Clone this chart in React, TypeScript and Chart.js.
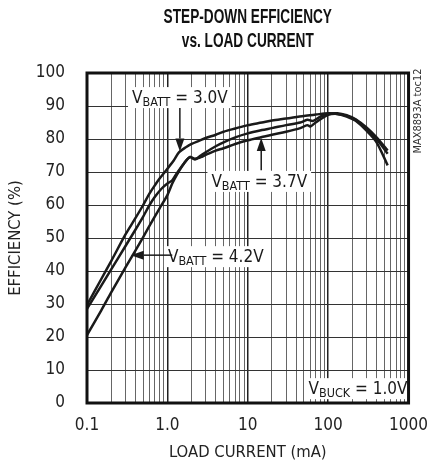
import React, { useEffect, useRef } from "react";
import { Chart, registerables } from "chart.js";

Chart.register(...registerables);

// ---- data ----
const current30 = [0.1, 0.15, 0.2, 0.3, 0.4, 0.5, 0.6, 0.7, 0.8, 1.0, 1.2, 1.4, 1.7, 2, 2.5, 3, 4, 5, 7, 10, 15, 20, 30, 50, 70, 100, 130, 170, 220, 300, 400, 550];
const eff30 = [29.7, 37.5, 43, 51, 56, 60, 63.5, 66, 68, 71, 73.5, 76, 77.5, 78.5, 79.5, 80.3, 81.3, 82.2, 83.2, 84.2, 85, 85.6, 86.2, 87, 87.4, 87.8, 87.6, 86.8, 85.5, 82.5, 79, 72];

const current37 = [0.1, 0.15, 0.2, 0.3, 0.4, 0.5, 0.6, 0.7, 0.85, 1.0, 1.15, 1.3, 1.6, 1.9, 2.2, 2.6, 3, 4, 5, 7, 10, 15, 20, 30, 45, 55, 60, 70, 100, 130, 170, 220, 300, 400, 550];
const eff37 = [28.5, 35.5, 40.5, 47.5, 52.5, 56.5, 60, 62.5, 65, 66.5, 67.5, 69.5, 72.5, 74.5, 74, 74.5, 75.2, 76.5, 77.2, 78.5, 79.6, 80.6, 81.3, 82.2, 83.3, 84.2, 83.8, 85, 87.3, 87.6, 87, 85.8, 83, 80, 75.5];

const current42 = [0.1, 0.15, 0.2, 0.3, 0.4, 0.5, 0.66, 0.8, 1.0, 1.15, 1.3, 1.6, 1.9, 2.2, 2.6, 3, 4, 5, 7, 10, 15, 20, 30, 45, 55, 65, 80, 100, 130, 170, 220, 300, 400, 550];
const eff42 = [20.6, 28, 33.5, 41, 46.2, 50.3, 55.5, 59, 63, 66.5, 69, 72.5, 74.5, 73.8, 75, 76, 77.8, 79, 80.5, 81.7, 82.7, 83.3, 84.2, 85, 85.8, 85.5, 86.8, 87.6, 87.8, 87.2, 86, 83.5, 80.5, 76.5];

const xGridValues = [0.1, 0.2, 0.3, 0.4, 0.5, 0.6, 0.7, 0.8, 0.9, 1, 2, 3, 4, 5, 6, 7, 8, 9, 10, 20, 30, 40, 50, 60, 70, 80, 90, 100, 200, 300, 400, 500, 600, 700, 800, 900, 1000];
const xDecades = [0.1, 1, 10, 100, 1000];
const xTickLabels = ["0.1", "1.0", "10", "100", "1000"];

const titleLines = ["STEP-DOWN EFFICIENCY", "vs. LOAD CURRENT"];
const xTitle = "LOAD CURRENT (mA)";
const yTitle = "EFFICIENCY (%)";
const sideNote = "MAX8893A toc12";

// annotations (data coordinates)
const annotX = [1.43, 13.9, 4.0, 235];
const annotY = [92.7, 67.3, 44.5, 4.5];
const annotSub = ["BATT", "BATT", "BATT", "BUCK"];
const annotRest = [" = 3.0V", " = 3.7V", " = 4.2V", " = 1.0V"];

const arrowFromX = [1.43, 14.7, 1.15];
const arrowFromY = [89.4, 70.5, 44.8];
const arrowToX = [1.43, 14.7, 0.35];
const arrowToY = [76.2, 80.3, 44.8];

const FAM = "'Liberation Sans Narrow', 'Arial Narrow', 'DejaVu Sans Condensed', sans-serif";

function isDecade(v: number) {
  return xDecades.some((d) => Math.abs(d - v) < 1e-9);
}

const overlayPlugin = {
  id: "overlay",
  afterDatasetsDraw(chart: any) {
    const { ctx, chartArea, scales } = chart;
    const xs = scales.x;
    const ys = scales.y;
    ctx.save();

    // labels
    for (let i = 0; i < annotX.length; i++) {
      const cx = xs.getPixelForValue(annotX[i]);
      const cy = ys.getPixelForValue(annotY[i]);
      const mainFont = `17px ${FAM}`;
      const subFont = `12.5px ${FAM}`;
      ctx.font = mainFont;
      const wV = ctx.measureText("V").width;
      const wR = ctx.measureText(annotRest[i]).width;
      ctx.font = subFont;
      const wS = ctx.measureText(annotSub[i]).width;
      const total = wV + wS + wR;
      const x0 = cx - total / 2;
      ctx.fillStyle = "#fff";
      ctx.fillRect(x0 - 4, cy - 10, total + 8, 21);
      ctx.fillStyle = "#1a1a1a";
      ctx.textBaseline = "alphabetic";
      ctx.textAlign = "left";
      ctx.font = mainFont;
      ctx.fillText("V", x0, cy + 6);
      ctx.font = subFont;
      ctx.fillText(annotSub[i], x0 + wV, cy + 9);
      ctx.font = mainFont;
      ctx.fillText(annotRest[i], x0 + wV + wS, cy + 6);
    }

    // arrows
    ctx.strokeStyle = "#1a1a1a";
    ctx.fillStyle = "#1a1a1a";
    ctx.lineWidth = 1.5;
    for (let i = 0; i < arrowFromX.length; i++) {
      const x1 = xs.getPixelForValue(arrowFromX[i]);
      const y1 = ys.getPixelForValue(arrowFromY[i]);
      const x2 = xs.getPixelForValue(arrowToX[i]);
      const y2 = ys.getPixelForValue(arrowToY[i]);
      const ang = Math.atan2(y2 - y1, x2 - x1);
      const hl = 13;
      const hw = 4.5;
      const bx = x2 - hl * Math.cos(ang);
      const by = y2 - hl * Math.sin(ang);
      ctx.beginPath();
      ctx.moveTo(x1, y1);
      ctx.lineTo(bx, by);
      ctx.stroke();
      ctx.beginPath();
      ctx.moveTo(x2, y2);
      ctx.lineTo(bx + hw * Math.sin(ang), by - hw * Math.cos(ang));
      ctx.lineTo(bx - hw * Math.sin(ang), by + hw * Math.cos(ang));
      ctx.closePath();
      ctx.fill();
    }

    // frame
    ctx.strokeStyle = "#111";
    ctx.lineWidth = 3;
    ctx.strokeRect(chartArea.left, chartArea.top, chartArea.right - chartArea.left, chartArea.bottom - chartArea.top);

    // title (bold, horizontally condensed)
    ctx.fillStyle = "#111";
    ctx.textAlign = "center";
    ctx.textBaseline = "middle";
    ctx.font = `bold 19.5px 'Liberation Sans', Arial, sans-serif`;
    const tcx = (chartArea.left + chartArea.right) / 2;
    const ty = [18, 42];
    for (let i = 0; i < titleLines.length; i++) {
      ctx.save();
      ctx.translate(tcx, ty[i]);
      ctx.scale(0.7, 1);
      ctx.fillText(titleLines[i], 0, 0);
      ctx.restore();
    }

    // side note
    ctx.save();
    ctx.translate(chartArea.right + 10, chartArea.top + 38);
    ctx.rotate(-Math.PI / 2);
    ctx.font = `11px ${FAM}`;
    ctx.fillStyle = "#333";
    ctx.textAlign = "center";
    ctx.textBaseline = "middle";
    ctx.fillText(sideNote, 0, 0);
    ctx.restore();

    ctx.restore();
  },
};

export default function App() {
  const ref = useRef<HTMLCanvasElement>(null);
  useEffect(() => {
    if (!ref.current) return;
    const mk = (xv: number[], yv: number[]) => xv.map((x, i) => ({ x, y: yv[i] }));
    const ds = (data: any[]) => ({
      data,
      borderColor: "#1a1a1a",
      borderWidth: 2.5,
      pointRadius: 0,
      tension: 0.3,
      fill: false,
    });
    const chart = new Chart(ref.current, {
      type: "line",
      data: {
        datasets: [ds(mk(current30, eff30)), ds(mk(current37, eff37)), ds(mk(current42, eff42))],
      },
      plugins: [overlayPlugin],
      options: {
        animation: false,
        responsive: false,
        events: [],
        layout: { padding: { top: 73, right: 21, bottom: 0, left: 0 } },
        plugins: { legend: { display: false }, tooltip: { enabled: false }, title: { display: false } },
        scales: {
          x: {
            type: "logarithmic",
            min: 0.1,
            max: 1000,
            afterBuildTicks: (s: any) => {
              s.ticks = xGridValues.map((v) => ({ value: v }));
            },
            afterFit: (s: any) => {
              s.height = 60;
            },
            border: { display: false },
            grid: {
              drawTicks: false,
              color: (c: any) => (isDecade(c.tick.value) ? "#222" : "#666"),
              lineWidth: (c: any) => (isDecade(c.tick.value) ? 1.5 : 1),
            },
            ticks: {
              autoSkip: false,
              maxRotation: 0,
              padding: 12,
              color: "#222",
              font: { family: FAM, size: 17 },
              callback: (v: any) => {
                const idx = xDecades.findIndex((d) => Math.abs(d - Number(v)) < 1e-9);
                return idx >= 0 ? xTickLabels[idx] : "";
              },
            },
            title: {
              display: true,
              text: xTitle,
              color: "#222",
              font: { family: FAM, size: 16.5 },
              padding: { top: 0, bottom: 0 },
            },
          },
          y: {
            type: "linear",
            min: 0,
            max: 100,
            afterFit: (s: any) => {
              s.width = 87;
            },
            border: { display: false },
            grid: { drawTicks: false, color: "#333", lineWidth: 1 },
            ticks: {
              stepSize: 10,
              padding: 22,
              color: "#222",
              font: { family: FAM, size: 17 },
            },
            title: {
              display: true,
              text: yTitle,
              color: "#222",
              font: { family: FAM, size: 16.5 },
              padding: { top: 6, bottom: 0 },
            },
          },
        },
      },
    } as any);
    return () => chart.destroy();
  }, []);
  return (
    <div style={{ position: "absolute", left: 0, top: 0, width: 440, height: 463, background: "#fff" }}>
      <canvas ref={ref} width={440} height={463} style={{ display: "block" }} />
    </div>
  );
}
